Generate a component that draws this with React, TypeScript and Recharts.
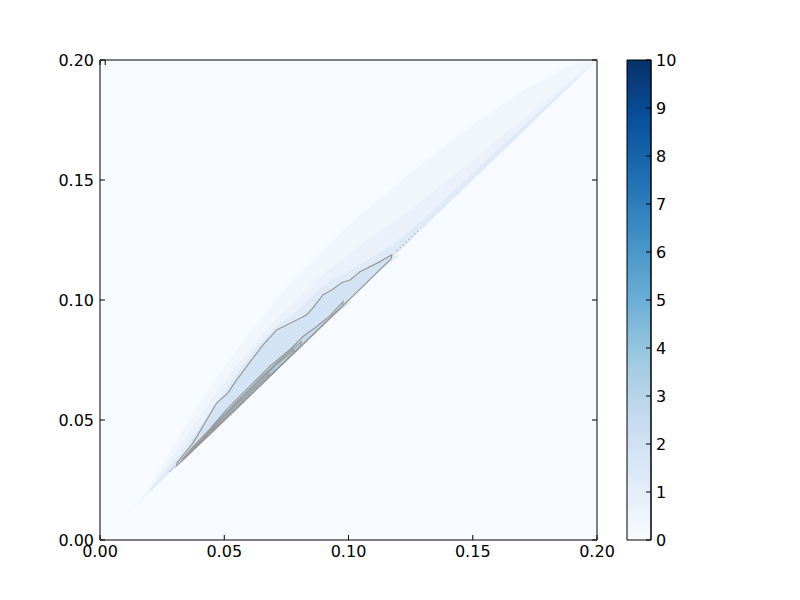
import React from "react";
import { ComposedChart, Area, Scatter, XAxis, YAxis, ReferenceArea } from "recharts";

const xTicks = [0, 0.05, 0.1, 0.15, 0.2];
const yTicks = [0, 0.05, 0.1, 0.15, 0.2];
const cbTicks = [0, 1, 2, 3, 4, 5, 6, 7, 8, 9, 10];

// density fill layers above the diagonal: [x, lower, upper]
const glowWide = [
  [0.02, 0.02, 0.022], [0.03, 0.03, 0.04], [0.04, 0.04, 0.057], [0.05, 0.05, 0.072],
  [0.06, 0.06, 0.086], [0.07, 0.07, 0.099], [0.08, 0.08, 0.111], [0.09, 0.09, 0.121],
  [0.1, 0.1, 0.131], [0.11, 0.11, 0.14], [0.12, 0.12, 0.149], [0.13, 0.13, 0.157],
  [0.14, 0.14, 0.165], [0.15, 0.15, 0.173], [0.16, 0.16, 0.18], [0.17, 0.17, 0.187],
  [0.18, 0.18, 0.193], [0.19, 0.19, 0.198], [0.2, 0.2, 0.2],
];
const glowMid = [
  [0.02, 0.02, 0.021], [0.03, 0.03, 0.036], [0.04, 0.04, 0.051], [0.05, 0.05, 0.066],
  [0.06, 0.06, 0.079], [0.07, 0.07, 0.091], [0.08, 0.08, 0.101], [0.09, 0.09, 0.111],
  [0.1, 0.1, 0.119], [0.11, 0.11, 0.127], [0.12, 0.12, 0.134], [0.13, 0.13, 0.142],
  [0.14, 0.14, 0.15], [0.15, 0.15, 0.158], [0.16, 0.16, 0.167], [0.17, 0.17, 0.175],
  [0.18, 0.18, 0.184], [0.19, 0.19, 0.192], [0.2, 0.2, 0.2],
];
const glowNear = [
  [0.012, 0.012, 0.0122], [0.02, 0.02, 0.0208], [0.03, 0.03, 0.033], [0.04, 0.04, 0.047],
  [0.05, 0.05, 0.062], [0.06, 0.06, 0.076], [0.07, 0.07, 0.088], [0.08, 0.08, 0.096],
  [0.09, 0.09, 0.106], [0.1, 0.1, 0.112], [0.11, 0.11, 0.118], [0.12, 0.12, 0.125],
  [0.13, 0.13, 0.1335], [0.14, 0.14, 0.1432], [0.15, 0.15, 0.1528], [0.16, 0.16, 0.1625],
  [0.17, 0.17, 0.172], [0.18, 0.18, 0.1815], [0.19, 0.19, 0.1908], [0.2, 0.2, 0.2],
];
const fill1 = [
  [0.03, 0.03, 0.031], [0.04, 0.04, 0.045], [0.05, 0.05, 0.06], [0.06, 0.06, 0.0735],
  [0.07, 0.07, 0.086], [0.08, 0.08, 0.092], [0.09, 0.09, 0.102], [0.1, 0.1, 0.108],
  [0.11, 0.11, 0.1145], [0.12, 0.118, 0.119],
];
const fill2 = [
  [0.03, 0.03, 0.0305], [0.04, 0.04, 0.042], [0.05, 0.05, 0.0535], [0.06, 0.06, 0.0635],
  [0.07, 0.07, 0.0735], [0.08, 0.08, 0.083], [0.09, 0.09, 0.0915], [0.1, 0.098, 0.0995],
];
const fill3 = [
  [0.03, 0.03, 0.0302], [0.04, 0.04, 0.0412], [0.05, 0.05, 0.0525], [0.06, 0.06, 0.0625],
  [0.07, 0.07, 0.0725], [0.08, 0.08, 0.082],
];
const fill4 = [
  [0.04, 0.04, 0.0405], [0.05, 0.05, 0.0515], [0.06, 0.06, 0.0615], [0.07, 0.07, 0.0715],
];

// contour outlines
const contour1 = [
  { x: 0.0309, y: 0.032 }, { x: 0.0374, y: 0.0404 }, { x: 0.047, y: 0.0571 },
  { x: 0.0515, y: 0.0613 }, { x: 0.055, y: 0.0667 }, { x: 0.0631, y: 0.0779 },
  { x: 0.0656, y: 0.0813 }, { x: 0.0711, y: 0.0875 }, { x: 0.0792, y: 0.0917 },
  { x: 0.0832, y: 0.0938 }, { x: 0.0857, y: 0.0967 }, { x: 0.0897, y: 0.1021 },
  { x: 0.0932, y: 0.1042 }, { x: 0.0973, y: 0.1072 }, { x: 0.1006, y: 0.1083 },
  { x: 0.1046, y: 0.1118 }, { x: 0.1127, y: 0.116 }, { x: 0.1174, y: 0.1188 },
  { x: 0.1172, y: 0.1172 }, { x: 0.09, y: 0.0898 }, { x: 0.06, y: 0.0598 },
  { x: 0.0309, y: 0.031 }, { x: 0.0309, y: 0.032 },
];
const contour2 = [
  { x: 0.033, y: 0.0335 }, { x: 0.0374, y: 0.0388 }, { x: 0.0443, y: 0.0462 },
  { x: 0.051, y: 0.0544 }, { x: 0.0604, y: 0.0642 }, { x: 0.0684, y: 0.0724 },
  { x: 0.0765, y: 0.0794 }, { x: 0.0817, y: 0.0848 }, { x: 0.0872, y: 0.089 },
  { x: 0.0926, y: 0.0935 }, { x: 0.0978, y: 0.0993 }, { x: 0.0975, y: 0.0975 },
  { x: 0.06, y: 0.0599 }, { x: 0.033, y: 0.033 }, { x: 0.033, y: 0.0335 },
];
const contour3 = [
  { x: 0.034, y: 0.0343 }, { x: 0.045, y: 0.0468 }, { x: 0.055, y: 0.0575 },
  { x: 0.065, y: 0.0678 }, { x: 0.075, y: 0.0775 }, { x: 0.081, y: 0.0825 },
  { x: 0.0805, y: 0.0805 }, { x: 0.05, y: 0.0499 }, { x: 0.034, y: 0.034 },
  { x: 0.034, y: 0.0343 },
];
const contour4 = [
  { x: 0.038, y: 0.0384 }, { x: 0.05, y: 0.0518 }, { x: 0.06, y: 0.0622 },
  { x: 0.07, y: 0.0722 }, { x: 0.078, y: 0.0792 }, { x: 0.0778, y: 0.0778 },
  { x: 0.05, y: 0.0499 }, { x: 0.038, y: 0.038 }, { x: 0.038, y: 0.0384 },
];
const contour5 = [
  { x: 0.042, y: 0.0424 }, { x: 0.055, y: 0.0562 }, { x: 0.068, y: 0.0692 },
  { x: 0.0676, y: 0.0676 }, { x: 0.042, y: 0.042 },
];
const dotsUpper = [{ x: 0.1195, y: 0.1205 }, { x: 0.128, y: 0.1288 }];
const dotsLower = [{ x: 0.028, y: 0.0285 }, { x: 0.0305, y: 0.031 }];

const bands = [
  { key: "wide", pts: glowWide, color: "#c6dbef", opacity: 0.13 },
  { key: "mid", pts: glowMid, color: "#c6dbef", opacity: 0.16 },
  { key: "near", pts: glowNear, color: "#c6dbef", opacity: 0.3 },
  { key: "f1", pts: fill1, color: "#c6dbef", opacity: 0.45 },
  { key: "f2", pts: fill2, color: "#b3d3e9", opacity: 0.5 },
  { key: "f3", pts: fill3, color: "#9ecae1", opacity: 0.55 },
  { key: "f4", pts: fill4, color: "#8dc0de", opacity: 0.6 },
];

const table = Array.from(new Set(bands.flatMap((b) => b.pts.map((p) => p[0]))))
  .sort((a, b) => a - b)
  .map((x) => {
    const row: any = { x };
    bands.forEach((b) => {
      const p = b.pts.find((q) => q[0] === x);
      if (p) row[b.key] = [p[1], p[2]];
    });
    return row;
  });

const contours = [contour1, contour2, contour3, contour4, contour5];

const font = { fontFamily: "DejaVu Sans", fontSize: 16, fill: "#000" };
const blank = () => "";
const lineColor = "#999999";

export default function App() {
  return (
    <div style={{ position: "absolute", left: 0, top: 0, width: 800, height: 600, background: "#fff" }}>
      <div style={{ position: "absolute", left: 0, top: 0 }}>
        <ComposedChart width={800} height={600} data={table} margin={{ top: 50, right: 193, bottom: 20, left: 40 }}>
          <XAxis dataKey="x" type="number" domain={[0, 0.2]} ticks={xTicks} allowDataOverflow
            tickFormatter={(v: number) => v.toFixed(2)} stroke="#000" tick={font}
            tickSize={-5} tickMargin={11} height={40} />
          <XAxis xAxisId="top" orientation="top" type="number" domain={[0, 0.2]} ticks={xTicks}
            allowDataOverflow tickFormatter={blank} stroke="#000" tickSize={-5} height={10} />
          <YAxis dataKey="y" type="number" domain={[0, 0.2]} ticks={yTicks} allowDataOverflow
            tickFormatter={(v: number) => v.toFixed(2)} stroke="#000" tick={font}
            tickSize={-5} tickMargin={11} width={60} />
          <YAxis yAxisId="right" orientation="right" type="number" domain={[0, 0.2]} ticks={yTicks}
            allowDataOverflow tickFormatter={blank} stroke="#000" tickSize={-5} width={10} />
          <ReferenceArea x1={0} x2={0.2} y1={0} y2={0.2} fill="#f7fbff" fillOpacity={1} stroke="none" />
          {bands.map((b) => (
            <Area key={b.key} dataKey={b.key} type="monotone" connectNulls stroke="none"
              fill={b.color} fillOpacity={b.opacity} isAnimationActive={false} />
          ))}
          {contours.map((c, i) => (
            <Scatter key={i} data={c} line={{ stroke: lineColor, strokeWidth: 1.2 }}
              shape={() => <g />} isAnimationActive={false} />
          ))}
          <Scatter data={dotsUpper} line={{ stroke: lineColor, strokeWidth: 1.3, strokeDasharray: "1 3" }}
            shape={() => <g />} isAnimationActive={false} />
          <Scatter data={dotsLower} line={{ stroke: lineColor, strokeWidth: 1.3, strokeDasharray: "1 2" }}
            shape={() => <g />} isAnimationActive={false} />
        </ComposedChart>
      </div>
      <div style={{ position: "absolute", left: 600, top: 0 }}>
        <ComposedChart width={100} height={600} data={cbTicks.map((v) => ({ v }))}
          margin={{ top: 60, right: 0, bottom: 60, left: 27 }}>
          <defs>
            <linearGradient id="blues" x1="0" y1="1" x2="0" y2="0">
              <stop offset="0" stopColor="#f7fbff" />
              <stop offset="0.125" stopColor="#deebf7" />
              <stop offset="0.25" stopColor="#c6dbef" />
              <stop offset="0.375" stopColor="#9ecae1" />
              <stop offset="0.5" stopColor="#6baed6" />
              <stop offset="0.625" stopColor="#4292c6" />
              <stop offset="0.75" stopColor="#2171b5" />
              <stop offset="0.875" stopColor="#08519c" />
              <stop offset="1" stopColor="#08306b" />
            </linearGradient>
          </defs>
          <XAxis hide />
          <YAxis dataKey="v" orientation="right" type="number" domain={[0, 10]} ticks={cbTicks}
            stroke="#000" tick={font} tickSize={-5} tickMargin={10} width={49} />
          <ReferenceArea y1={0} y2={10} fill="url(#blues)" fillOpacity={1}
            stroke="#000" strokeWidth={1} />
        </ComposedChart>
      </div>
    </div>
  );
}
